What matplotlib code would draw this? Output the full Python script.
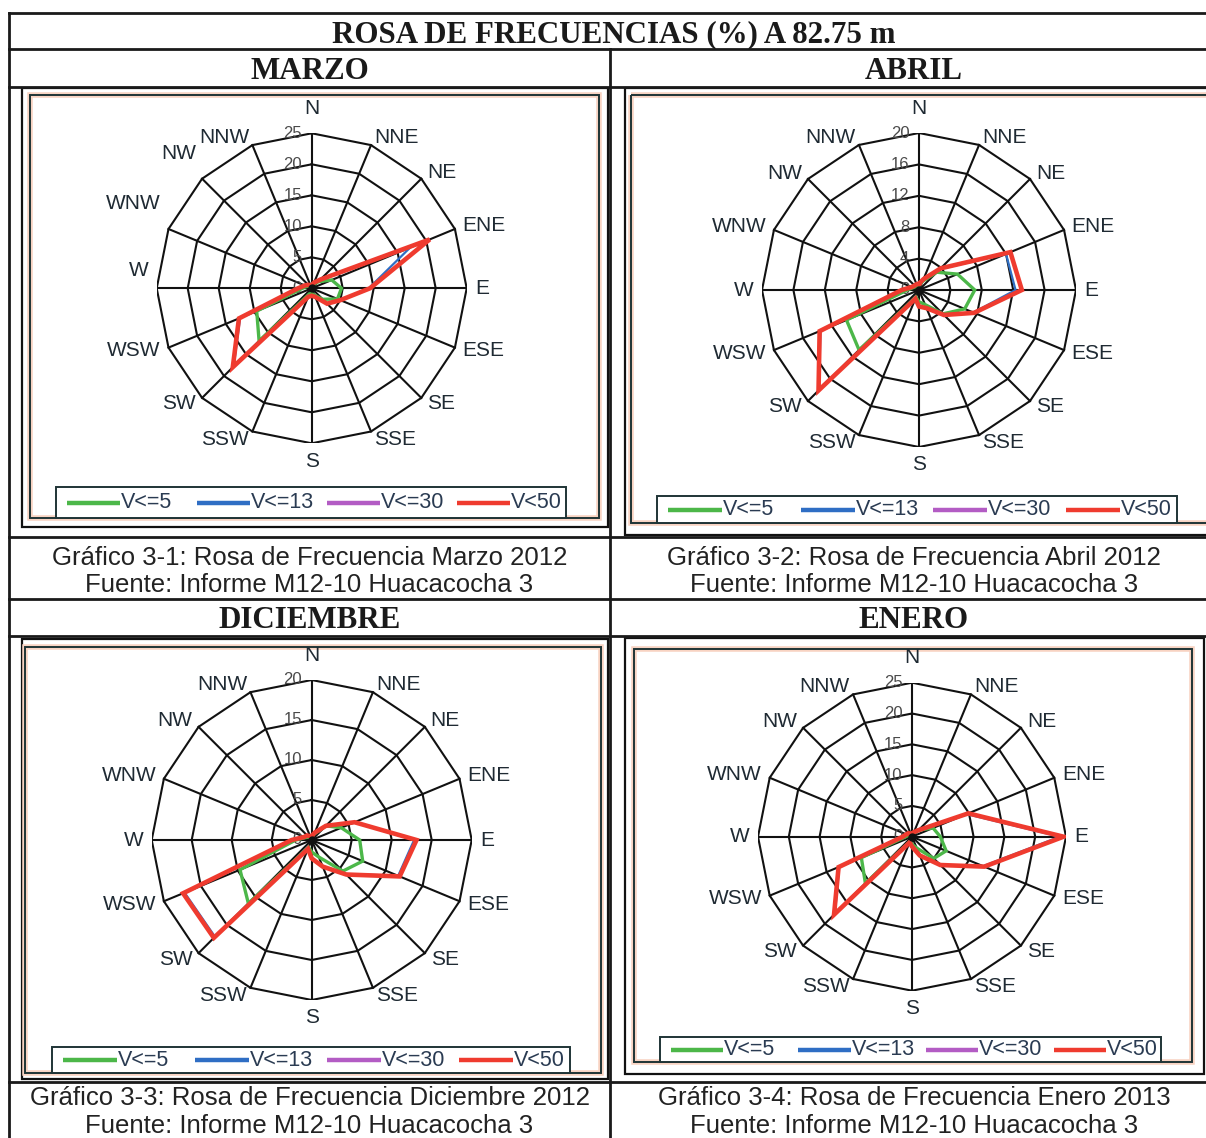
import numpy as np
import matplotlib.pyplot as plt
from matplotlib.patches import Rectangle

# rumbos, en el orden en que Excel reparte los ejes del radar
DIRS = ["N", "NNE", "NE", "ENE", "E", "ESE", "SE", "SSE",
        "S", "SSW", "SW", "WSW", "W", "WNW", "NW", "NNW"]

TITULO = "ROSA DE FRECUENCIAS (%) A 82.75 m"
MESES = ["MARZO", "ABRIL", "DICIEMBRE", "ENERO"]
GRAFICOS = ["Gráfico 3-1: Rosa de Frecuencia Marzo 2012",
            "Gráfico 3-2: Rosa de Frecuencia Abril 2012",
            "Gráfico 3-3: Rosa de Frecuencia Diciembre 2012",
            "Gráfico 3-4: Rosa de Frecuencia Enero 2013"]
FUENTE = "Fuente: Informe M12-10 Huacacocha 3"
SERIES = ["V<=5", "V<=13", "V<=30", "V<50"]

# escala radial de cada rosa
RMAX = [25, 20, 20, 25]
PASO = [5, 4, 5, 5]

# frecuencias (%) por rumbo
marzo_v5 = [0.4, 0.6, 1.5, 3.5, 4.8, 4.5, 2.5, 1.2, 0.8, 1.0, 12.0, 9.6, 1.5, 0.8, 0.5, 0.4]
marzo_v13 = [0.5, 1.0, 2.0, 17.2, 9.2, 5.0, 3.5, 1.5, 1.2, 1.5, 17.8, 12.5, 2.2, 1.2, 0.8, 0.5]
marzo_v30 = [0.5, 1.0, 2.0, 20.6, 9.4, 5.0, 3.5, 1.5, 1.2, 1.5, 18.0, 12.7, 2.2, 1.2, 0.8, 0.5]
marzo_v50 = [0.5, 1.0, 2.0, 20.6, 9.4, 5.0, 3.5, 1.5, 1.2, 1.5, 18.0, 12.7, 2.2, 1.2, 0.8, 0.5]

abril_v5 = [0.6, 1.2, 3.2, 5.3, 7.1, 6.3, 4.3, 2.0, 1.5, 1.0, 10.8, 10.0, 1.5, 0.8, 0.6, 0.5]
abril_v13 = [0.8, 1.5, 3.8, 12.0, 12.3, 7.5, 4.5, 2.5, 2.1, 1.2, 18.0, 13.6, 2.2, 1.0, 0.8, 0.8]
abril_v30 = [0.8, 1.5, 3.9, 12.6, 13.1, 7.6, 4.5, 2.5, 2.1, 1.2, 18.1, 13.7, 2.2, 1.0, 0.8, 0.8]
abril_v50 = [0.8, 1.5, 3.9, 12.6, 13.1, 7.6, 4.5, 2.5, 2.1, 1.2, 18.1, 13.7, 2.2, 1.0, 0.8, 0.8]

dic_v5 = [0.4, 0.8, 2.5, 4.0, 6.0, 6.9, 5.5, 2.3, 1.5, 1.0, 11.2, 9.7, 2.0, 0.8, 0.5, 0.4]
dic_v13 = [0.5, 1.0, 2.5, 5.8, 12.8, 11.7, 6.0, 3.6, 2.3, 1.2, 17.1, 17.2, 2.5, 1.0, 0.8, 0.5]
dic_v30 = [0.5, 1.0, 2.5, 5.8, 13.1, 11.9, 6.1, 3.6, 2.3, 1.2, 17.3, 17.4, 2.5, 1.0, 0.8, 0.5]
dic_v50 = [0.5, 1.0, 2.5, 5.8, 13.1, 11.9, 6.1, 3.6, 2.3, 1.2, 17.3, 17.4, 2.5, 1.0, 0.8, 0.5]

enero_v5 = [0.4, 0.6, 1.5, 3.7, 4.6, 6.0, 5.0, 2.0, 1.2, 0.8, 10.7, 8.9, 1.0, 0.6, 0.4, 0.4]
enero_v13 = [0.5, 0.8, 1.5, 9.6, 24.0, 12.5, 6.5, 3.3, 1.6, 1.0, 17.7, 12.8, 1.5, 1.0, 0.8, 0.5]
enero_v30 = [0.5, 0.8, 1.5, 9.9, 24.6, 12.7, 6.5, 3.3, 1.6, 1.0, 17.9, 12.9, 1.5, 1.0, 0.8, 0.5]
enero_v50 = [0.5, 0.8, 1.5, 9.9, 24.6, 12.7, 6.5, 3.3, 1.6, 1.0, 17.9, 12.9, 1.5, 1.0, 0.8, 0.5]

DATOS = [
    [marzo_v5, marzo_v13, marzo_v30, marzo_v50],
    [abril_v5, abril_v13, abril_v30, abril_v50],
    [dic_v5, dic_v13, dic_v30, dic_v50],
    [enero_v5, enero_v13, enero_v30, enero_v50],
]

COLORES = ["#4cb749", "#2f6ec4", "#b35cc4", "#ef3b2f"]
GROSOR = [2.4, 1.6, 1.6, 3.3]

W, H = 1206, 1138
fig = plt.figure(figsize=(W / 100, H / 100), dpi=100)
ax0 = fig.add_axes([0, 0, 1, 1])
ax0.set_xlim(0, W)
ax0.set_ylim(H, 0)
ax0.axis("off")

# tabla
for y in [13, 49, 87, 537, 599, 636, 1082]:
    ax0.plot([9, W + 5], [y, y], color="#1a1a1a", lw=2.0)
ax0.plot([9, 9], [13, H + 5], color="#1a1a1a", lw=2.0)
ax0.plot([610, 610], [49, H + 5], color="#1a1a1a", lw=2.0)

serif = dict(fontfamily="Liberation Serif", fontweight="bold", fontsize=22.3, color="#1a1a1a")
sans = dict(fontfamily="Liberation Sans", fontsize=18.5, color="#222222")

ax0.text(614, 42, TITULO, ha="center", va="baseline", **serif)
col_x = [309.5, 914, 309.5, 914]
cab_y = [78.5, 78.5, 628, 628]
pie_y = [(565, 592), (565, 592), (1105, 1133), (1105, 1133)]
for k in range(4):
    ax0.text(col_x[k], cab_y[k], MESES[k], ha="center", va="baseline", **serif)
    ax0.text(col_x[k], pie_y[k][0], GRAFICOS[k], ha="center", va="baseline", **sans)
    ax0.text(col_x[k], pie_y[k][1], FUENTE, ha="center", va="baseline", **sans)

# marcos de cada gráfico: borde exterior, marco interior, leyenda, centro y radio
PANELES = [
    dict(ext=(22, 88, 608, 527), intr=(30, 95, 599, 518), ley=(56, 487, 566, 518),
         c=(311.7, 288.3), r=155, ajuste={"WNW": 16, "W": 13, "NW": 14}),
    dict(ext=(625, 88, 1215, 535), intr=(631, 95, 1212, 523), ley=(657, 496, 1177, 523),
         c=(919, 290), r=157, ajuste={}),
    dict(ext=(22, 639, 608, 1079), intr=(25, 647, 601, 1073), ley=(52, 1047, 570, 1073),
         c=(311.7, 840), r=160, ajuste={}),
    dict(ext=(625, 638, 1204, 1074), intr=(634, 649, 1192, 1062), ley=(660, 1037, 1161, 1062),
         c=(912, 836.7), r=154, ajuste={}),
]

ang = np.deg2rad(np.arange(16) * 22.5)
sx, sy = np.sin(ang), np.cos(ang)


def cerrar(a):
    return np.append(a, a[0])


for k, p in enumerate(PANELES):
    x0, y0, x1, y1 = p["ext"]
    ax0.add_patch(Rectangle((x0, y0), x1 - x0, y1 - y0, fc="white", ec="#111111", lw=1.6))
    x0, y0, x1, y1 = p["intr"]
    ax0.add_patch(Rectangle((x0, y0), x1 - x0, y1 - y0, fc="none", ec="#f8d3c2", lw=4.0))
    ax0.add_patch(Rectangle((x0, y0), x1 - x0, y1 - y0, fc="none", ec="#1f3436", lw=1.4))

    # leyenda
    lx0, ly0, lx1, ly1 = p["ley"]
    lw_ = lx1 - lx0
    ax0.add_patch(Rectangle((lx0, ly0), lw_, ly1 - ly0, fc="white", ec="#1f3436", lw=1.4))
    ym = (ly0 + ly1) / 2
    for i, nombre in enumerate(SERIES):
        xs = lx0 + lw_ * (0.0216 + i * 0.2547)
        ax0.plot([xs, xs + 0.104 * lw_], [ym, ym], color=COLORES[i], lw=3.2, solid_capstyle="butt")
        ax0.text(xs + 0.106 * lw_, ym, nombre, ha="left", va="center",
                 fontfamily="Liberation Sans", fontsize=15.5, color="#2a3b52")

    # rosa
    cx, cy = p["c"]
    r = p["r"]
    vmax = RMAX[k]
    ax = fig.add_axes([(cx - r) / W, 1 - (cy + r) / H, 2 * r / W, 2 * r / H])
    ax.set_xlim(-vmax, vmax)
    ax.set_ylim(-vmax, vmax)
    ax.axis("off")

    anillos = np.arange(0, vmax + 0.01, PASO[k])
    for v in anillos[1:]:
        ax.plot(cerrar(v * sx), cerrar(v * sy), color="#111111", lw=1.5)
    for i in range(16):
        ax.plot([0, vmax * sx[i]], [0, vmax * sy[i]], color="#111111", lw=1.5)
    for v in anillos:
        ax.annotate(f"{v:g}", xy=(0, v), xytext=(-7, 0), textcoords="offset points",
                    ha="right", va="center", fontsize=12, color="#4a4a4a",
                    fontfamily="Liberation Sans", annotation_clip=False)

    for i, vals in enumerate(DATOS[k]):
        vals = np.asarray(vals)
        ax.plot(cerrar(vals * sx), cerrar(vals * sy), color=COLORES[i], lw=GROSOR[i],
                solid_joinstyle="miter", zorder=3 + i)
    ax.plot(0, 0, "o", color="#111111", ms=5, zorder=8)

    for i, d in enumerate(DIRS):
        off = 11 if d == "N" else 6
        dx, dy = off * sx[i], off * sy[i] + p["ajuste"].get(d, 0)
        if abs(sx[i]) < 1e-6:
            ha = "center"
            va = "bottom" if sy[i] > 0 else "top"
        else:
            ha = "left" if sx[i] > 0 else "right"
            va = "center"
        ax.annotate(d, xy=(vmax * sx[i], vmax * sy[i]), xytext=(dx, dy),
                    textcoords="offset points", ha=ha, va=va, fontsize=15,
                    fontfamily="Liberation Sans", color="#1f2a33", annotation_clip=False)

fig.savefig("out.png", dpi=100)
